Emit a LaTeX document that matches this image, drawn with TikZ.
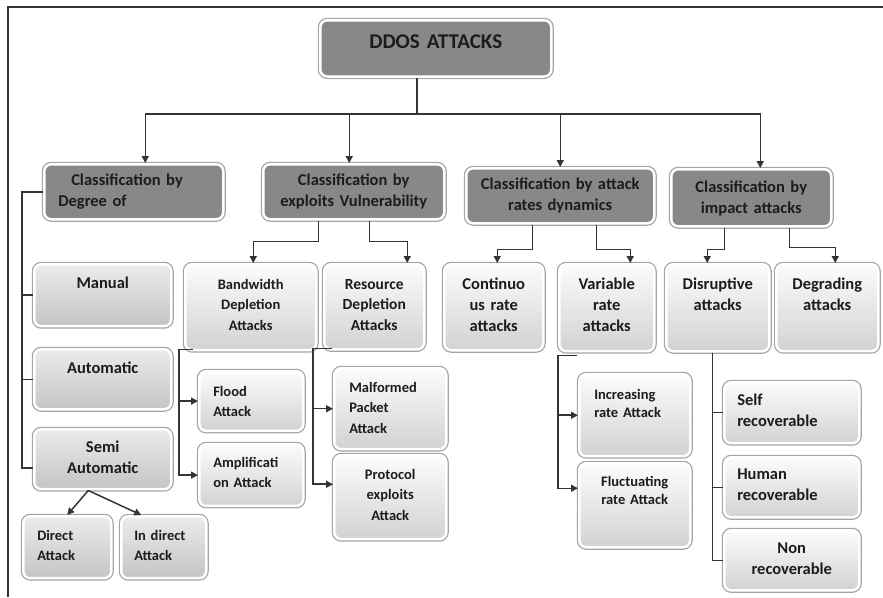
\documentclass[tikz,border=0pt]{standalone}
\usepackage{fontspec}
\setmainfont{Carlito}
\usetikzlibrary{arrows.meta}

\definecolor{boxdark}{RGB}{136,136,136}
\definecolor{textgray}{RGB}{28,28,28}
\definecolor{lngray}{RGB}{52,52,52}
\definecolor{rimgray}{RGB}{165,165,165}
\definecolor{lighttop}{RGB}{236,236,236}
\definecolor{lightbot}{RGB}{196,196,196}
\definecolor{paletop}{RGB}{252,252,252}
\definecolor{palebot}{RGB}{210,210,210}

\tikzset{every picture/.style={line width=1.5pt},
  dark/.style={rounded corners=7pt, fill=boxdark, draw=white, line width=2.5pt, preaction={draw=rimgray, line width=5pt}, text=textgray},
  light/.style={rounded corners=7pt, top color=lighttop, bottom color=lightbot, draw=white, line width=2.5pt, preaction={draw=rimgray, line width=5pt}, text=textgray},
  pale/.style={rounded corners=7pt, top color=paletop, bottom color=palebot, draw=white, line width=2.5pt, preaction={draw=rimgray, line width=5pt}, text=textgray},
  fbig/.style={font=\fontsize{21}{25}\selectfont\bfseries},
  fmid/.style={font=\fontsize{16.5}{21}\selectfont\bfseries},
  fsmall/.style={font=\fontsize{14.5}{20.5}\selectfont\bfseries},
  ln/.style={draw=lngray, line width=1.5pt},
  arr/.style={ln, -{Triangle[length=7pt,width=7pt]}}
}

\begin{document}
\begin{tikzpicture}[x=1pt,y=-1pt]
\useasboundingbox (0,0) rectangle (883,597);

%Frame
\draw [draw=lngray, line width=1.2pt] (8,597) -- (8,7) -- (883,7) ;

%Root
\node [dark, fbig, anchor=north west, text width=223pt, inner xsep=4pt, inner ysep=14pt, text depth=14.5pt, align=center] (top) at (319,19) {DDOS ATTACKS};

%Classification boxes
\node [dark, fmid, anchor=north west, text width=151pt, inner xsep=14pt, inner ysep=10pt, text depth=23.4pt, align=left] (c1) at (43,163) {\hspace*{13pt}Classification by\\Degree of};
\node [dark, fmid, anchor=north west, text width=173pt, inner xsep=4pt, inner ysep=10pt, text depth=23.4pt, align=center] (c2) at (262,163) {Classification by\\exploits Vulnerability};
\node [dark, fmid, anchor=north west, text width=180pt, inner xsep=4pt, inner ysep=10pt, text depth=23.4pt, align=center] (c3) at (465,167) {Classification by attack\\rates dynamics};
\node [dark, fmid, anchor=north west, text width=152pt, inner xsep=4pt, inner ysep=12pt, text depth=21.4pt, align=center] (c4) at (670,168) {Classification by\\impact attacks};

%Degree boxes
\node [light, fmid, anchor=north west, text width=129pt, inner xsep=4pt, inner ysep=13pt, text depth=24.4pt, align=center] (manual) at (33,263) {Manual};
\node [light, fmid, anchor=north west, text width=129pt, inner xsep=4pt, inner ysep=13pt, text depth=22.4pt, align=center] (auto) at (33,348) {Automatic};
\node [light, fmid, anchor=north west, text width=129pt, inner xsep=4pt, inner ysep=12pt, text depth=24.4pt, align=center] (semi) at (33,428) {Semi\\Automatic};
\node [light, fsmall, anchor=north west, text width=60pt, inner xsep=14pt, inner ysep=14pt, text depth=23.8pt, align=left] (direct) at (22,515) {Direct\\Attack};
\node [light, fsmall, anchor=north west, text width=59pt, inner xsep=13pt, inner ysep=14pt, text depth=23.8pt, align=left] (indirect) at (120,515) {In direct\\Attack};

%Second level boxes
\node [pale, fsmall, anchor=north west, text width=123pt, inner xsep=4pt, inner ysep=15pt, text depth=45.8pt, align=center] (bw) at (184,263) {Bandwidth\\Depletion\\Attacks};
\node [pale, font=\fontsize{15.5}{20.5}\selectfont\bfseries, anchor=north west, text width=92pt, inner xsep=4pt, inner ysep=15pt, text depth=45.1pt, align=center] (res) at (323,263) {Resource\\Depletion\\Attacks};
\node [pale, fmid, anchor=north west, text width=91pt, inner xsep=4pt, inner ysep=14pt, text depth=46.4pt, align=center] (cont) at (443,263) {Continuo\\us rate\\attacks};
\node [pale, fmid, anchor=north west, text width=87pt, inner xsep=4pt, inner ysep=14pt, text depth=47.4pt, align=center] (var) at (558,263) {Variable\\rate\\attacks};
\node [pale, fmid, anchor=north west, text width=95pt, inner xsep=4pt, inner ysep=14pt, text depth=47.4pt, align=center] (disr) at (665,263) {Disruptive\\attacks};
\node [pale, fmid, anchor=north west, text width=94pt, inner xsep=4pt, inner ysep=14pt, text depth=47.4pt, align=center] (degr) at (775,263) {Degrading\\attacks};

%Third level boxes
\node [pale, fsmall, anchor=north west, text width=76pt, inner xsep=14pt, inner ysep=15pt, text depth=19.5pt, align=left] (flood) at (198,370) {Flood\\Attack};
\node [pale, fsmall, anchor=north west, text width=76pt, inner xsep=14pt, inner ysep=13pt, text depth=25.5pt, align=left] (ampl) at (198,443) {Amplificati\\on Attack};
\node [pale, fsmall, anchor=north west, text width=82pt, inner xsep=15pt, inner ysep=14pt, text depth=42.8pt, align=left] (malf) at (333,367) {Malformed\\Packet\\Attack};
\node [pale, fsmall, anchor=north west, text width=104pt, inner xsep=4pt, inner ysep=14pt, text depth=45.8pt, align=center] (prot) at (333,454) {Protocol\\exploits\\Attack};
\node [pale, font=\fontsize{14.5}{18.5}\selectfont\bfseries, anchor=north west, text width=81pt, inner xsep=15pt, inner ysep=15pt, text depth=41.8pt, align=left] (incr) at (578,373) {Increasing\\rate Attack};
\node [pale, font=\fontsize{14.5}{18.5}\selectfont\bfseries, anchor=north west, text width=103pt, inner xsep=4pt, inner ysep=13pt, text depth=47.8pt, align=center] (fluct) at (578,462) {Fluctuating\\rate Attack};
\node [pale, fmid, anchor=north west, text width=109pt, inner xsep=13pt, inner ysep=12pt, text depth=25.4pt, align=left] (self) at (723,381) {Self\\recoverable};
\node [pale, fmid, anchor=north west, text width=109pt, inner xsep=13pt, inner ysep=12pt, text depth=25.4pt, align=left] (human) at (723,456) {Human\\recoverable};
\node [pale, fmid, anchor=north west, text width=127pt, inner xsep=4pt, inner ysep=13pt, text depth=23.4pt, align=center] (non) at (723,529) {Non\\recoverable};

%Root connectors
\coordinate (bus) at (417,114);
\draw [ln] (top.south -| bus) -- (bus) ;
\foreach \n/\dx in {c1/11.5, c2/-4.5, c3/0, c4/9}
  \draw [arr] (bus) -| ([xshift=\dx pt]\n.north) ;

%Degree connectors
\draw [ln] (c1.west) -- ++(-21,0) coordinate (c1bar) |- ([yshift=-9pt]semi.west) ;
\draw [ln] (c1bar |- manual.west) -- (manual.west) ;
\draw [ln] (c1bar |- auto.west) -- (auto.west) ;
\draw [arr] ([xshift=-14.5pt]semi.south) -- (direct.north) ;
\draw [arr] ([xshift=-14.5pt]semi.south) -- ([xshift=-22.5pt]indirect.north) ;

%Second level connectors
\draw [arr] ([xshift=-35.5pt]c2.south) -- ++(0,21) -| ([xshift=2.5pt]bw.north) ;
\draw [arr] ([xshift=15.5pt]c2.south) -- ++(0,21) -| ([xshift=33pt]res.north) ;
\draw [arr] ([xshift=-28pt]c3.south) -- ++(0,25) -| ([xshift=3.5pt]cont.north) ;
\draw [arr] ([xshift=36pt]c3.south) -- ++(0,25) -| ([xshift=23.5pt]var.north) ;
\draw [arr] ([xshift=-27pt]c4.south) -- ++(0,22) -| ([xshift=-10.5pt]disr.north) ;
\draw [arr] ([xshift=38pt]c4.south) -- ++(0,20) -| ([xshift=8pt]degr.north) ;

%Third level connectors
\draw [arr] ([xshift=9pt,yshift=2pt]bw.south west) -- ++(-14,0) coordinate (bwbar) |- (ampl.west) ;
\draw [arr] (bwbar |- flood.west) -- (flood.west) ;
\draw [arr] ([xshift=9pt,yshift=2pt]res.south west) -- ++(-19,0) coordinate (resbar) |- ([yshift=13pt]prot.west) ;
\draw [arr] (resbar |- malf.west) -- (malf.west) ;
\draw [arr] ([xshift=19pt,yshift=-3pt]var.south west) -- ++(-19,0) coordinate (varbar) |- ([yshift=17pt]fluct.west) ;
\draw [arr] (varbar |- incr.west) -- (incr.west) ;
\draw [ln] ([xshift=-5.5pt]disr.south) coordinate (disrbar) |- (non.west) ;
\draw [ln] (disrbar |- self.west) -- (self.west) ;
\draw [ln] (disrbar |- human.west) -- (human.west) ;

\end{tikzpicture}
\end{document}
